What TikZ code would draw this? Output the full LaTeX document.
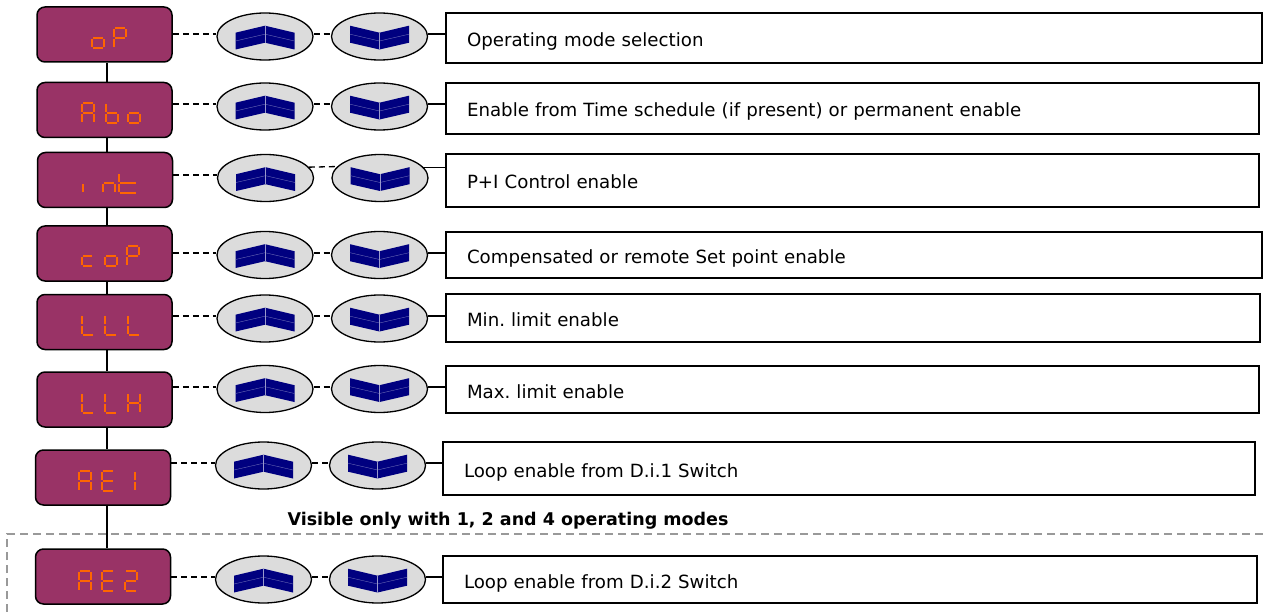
\documentclass[tikz,border=0pt]{standalone}
\usepackage{fontspec}
\setmainfont{DejaVu Sans}
\usetikzlibrary{shapes.geometric,calc}
\definecolor{dispfill}{HTML}{993366}
\definecolor{segorange}{HTML}{FF6600}
\definecolor{btnfill}{HTML}{DCDCDC}
\definecolor{chevblue}{HTML}{000080}
\definecolor{regiongray}{HTML}{999999}
\tikzset{
  disp/.style={draw=black, line width=1.5pt, fill=dispfill, rounded corners=8pt,
    rectangle, minimum width=135pt, minimum height=55pt, inner sep=0pt},
  btn/.style={draw=black, line width=1.3pt, fill=btnfill, ellipse,
    minimum width=96pt, minimum height=47pt, inner sep=0pt},
  tbox/.style={draw=black, line width=1.6pt, rectangle, inner xsep=21pt, inner ysep=0pt,
    align=left, text height=18pt, text depth=1pt, font=\fontsize{18.2}{22}\selectfont},
  seg/.style={draw=segorange, line width=2.5pt},
  dashconn/.style={draw=black, line width=1.3pt, dash pattern=on 6pt off 4pt},
  solidconn/.style={draw=black, line width=1.3pt},
  vline/.style={draw=black, line width=1.3pt},
  region/.style={draw=regiongray, line width=1.5pt, dash pattern=on 8pt off 5pt},
  note/.style={font=\bfseries\fontsize{17.5}{21}\selectfont, inner sep=0pt},
  pics/upchev/.style={code={
    \fill[chevblue] (-29.5,-3.8) -- (0,-10.8) -- (29.5,-3.8) -- (29.5,13) -- (0,6.2) -- (-29.5,13) -- cycle;
    \draw[chevblue!55!white, line width=0.35pt] (-29.5,4.5) -- (0,-2.3) -- (29.5,4.5);
    \draw[chevblue!40!white, line width=0.35pt] (0,-10.8) -- (0,6.2);
  }},
  pics/downchev/.style={code={
    \fill[chevblue] (-29.5,-10.8) -- (0,-3.8) -- (29.5,-10.8) -- (29.5,6.2) -- (0,13) -- (-29.5,6.2) -- cycle;
    \draw[chevblue!55!white, line width=0.35pt] (-29.5,-2.3) -- (0,4.5) -- (29.5,-2.3);
    \draw[chevblue!40!white, line width=0.35pt] (0,-3.8) -- (0,13);
  }}
}
% seven-segment character: x left, y bottom, width, list of segments
\newcommand\sevseg[4]{%
  \foreach \s in {#4}{%
    \if a\s \draw[seg] (#1+1.2,#2-20) -- (#1+#3-1.2,#2-20);\fi
    \if b\s \draw[seg] (#1+#3,#2-19.2) -- (#1+#3,#2-10.8);\fi
    \if c\s \draw[seg] (#1+#3,#2-9.2) -- (#1+#3,#2-0.8);\fi
    \if d\s \draw[seg] (#1+1.2,#2) -- (#1+#3-1.2,#2);\fi
    \if e\s \draw[seg] (#1,#2-9.2) -- (#1,#2-0.8);\fi
    \if f\s \draw[seg] (#1,#2-19.2) -- (#1,#2-10.8);\fi
    \if g\s \draw[seg] (#1+1.2,#2-10) -- (#1+#3-1.2,#2-10);\fi
  }}
\begin{document}
\frenchspacing
\begin{tikzpicture}[x=1pt,y=-1pt]
\useasboundingbox (0,0) rectangle (1268,612);

% region of modes 1, 2 and 4
\draw[region] (7,612) -- (7,534) -- (1268,534);
\node[note, anchor=base] (vis) at (508,525) {Visible only with 1, 2 and 4 operating modes};

% display boxes
\node[disp] (d1) at (104.5,34.5) {};
\node[disp] (d2) at (104.5,110) {};
\node[disp] (d3) at (105,180) {};
\node[disp] (d4) at (104.5,253.5) {};
\node[disp] (d5) at (104.5,322) {};
\node[disp] (d6) at (104.5,399.5) {};
\node[disp] (d7) at (103,477.5) {};
\node[disp] (d8) at (103,576.5) {};

% vertical chain
\coordinate (vx) at (107,0);
\draw[vline] (d1.south -| vx) -- (d2.north -| vx);
\draw[vline] (d2.south -| vx) -- (d3.north -| vx);
\draw[vline] (d3.south -| vx) -- (d4.north -| vx);
\draw[vline] (d4.south -| vx) -- (d5.north -| vx);
\draw[vline] (d5.south -| vx) -- (d6.north -| vx);
\draw[vline] (d6.south -| vx) -- (d7.north -| vx);
\draw[vline] (d7.south -| vx) -- (d8.north -| vx);

% seven-segment texts
\sevseg{92}{48}{12}{c,d,e,g}\sevseg{114}{48}{12}{a,b,e,f,g}
\sevseg{82}{123}{12}{a,b,c,e,f,g}\sevseg{106}{123}{12}{c,d,e,f,g}\sevseg{128}{123}{12}{c,d,e,g}
\sevseg{83}{193}{12}{e}\sevseg{103}{193}{12}{c,e,g}\sevseg{119}{193}{18}{d,e,f,g}
\sevseg{82}{266}{11}{d,e,g}\sevseg{105}{266}{12}{c,d,e,g}\sevseg{127}{266}{12}{a,b,e,f,g}
\sevseg{82}{335}{12}{d,e,f}\sevseg{105}{335}{12}{d,e,f}\sevseg{128}{335}{12}{d,e,f}
\sevseg{82}{413}{12}{d,e,f}\sevseg{105}{413}{12}{d,e,f}\sevseg{128}{413}{12}{b,c,e,f,g}
\sevseg{79}{491}{12}{a,b,c,e,f,g}\sevseg{102}{491}{12}{a,d,e,f,g}\sevseg{123}{491}{12}{b,c}
\sevseg{79}{591}{12}{a,b,c,e,f,g}\sevseg{102}{591}{12}{a,d,e,f,g}\sevseg{125}{591}{12}{a,b,d,e,g}

% buttons
\node[btn] (a1) at (265,36.5) {};   \node[btn] (b1) at (379.5,36.5) {};
\node[btn] (a2) at (265,106.5) {};  \node[btn] (b2) at (379.5,106.5) {};
\node[btn] (a3) at (265.5,178) {};  \node[btn] (b3) at (380,178) {};
\node[btn] (a4) at (265,255) {};    \node[btn] (b4) at (379.5,255) {};
\node[btn] (a5) at (265,318.5) {};  \node[btn] (b5) at (379.5,318.5) {};
\node[btn] (a6) at (265,389) {};    \node[btn] (b6) at (379.5,389) {};
\node[btn] (a7) at (263.5,465.5) {};\node[btn] (b7) at (377.5,465.5) {};
\node[btn] (a8) at (263.5,579.5) {};\node[btn] (b8) at (377.5,579.5) {};
\foreach \i in {1,...,8}{
  \pic at (a\i.center) {upchev};
  \pic at (b\i.center) {downchev};
}

% description boxes
\node[tbox, text width=774pt, minimum height=50pt] (t1) at (854,38) {Operating mode selection};
\node[tbox, text width=771pt, minimum height=51pt] (t2) at (852.5,108.5) {Enable from Time schedule (if present) or permanent enable};
\node[tbox, text width=771pt, minimum height=53pt] (t3) at (852.5,180.5) {P+I Control enable};
\node[tbox, text width=774pt, minimum height=46pt] (t4) at (854,255) {Compensated or remote Set point enable};
\node[tbox, text width=772pt, minimum height=48pt] (t5) at (853,318) {Min. limit enable};
\node[tbox, text width=771pt, minimum height=47pt] (t6) at (852.5,389.5) {Max. limit enable};
\node[tbox, text width=770pt, minimum height=53pt] (t7) at (849,468.5) {Loop enable from D.i.1 Switch};
\node[tbox, text width=772pt, minimum height=47pt] (t8) at (850,579.5) {Loop enable from D.i.2 Switch};

% connector heights
\coordinate (r1) at (0,34);
\coordinate (r2) at (0,104);
\coordinate (r3) at (0,175);
\coordinate (r4) at (0,253);
\coordinate (r5) at (0,316);
\coordinate (r6) at (0,387);
\coordinate (r7) at (0,463);
\coordinate (r8) at (0,577);
\foreach \i in {1,2,4,5,6,7,8}{
  \draw[dashconn] (d\i.east |- r\i) -- (a\i.west |- r\i);
  \draw[dashconn] (a\i.east |- r\i) -- (b\i.west |- r\i);
  \draw[solidconn] (b\i.east |- r\i) -- (t\i.west |- r\i);
}
% third row: the right-hand links sit higher on the buttons
\draw[dashconn] (d3.east |- r3) -- (a3.west |- r3);
\draw[dashconn] (a3.14.5) -- (b3.165.5);
\draw[solidconn] (b3.14.5) -- (b3.14.5 -| t3.west);
\end{tikzpicture}
\end{document}
